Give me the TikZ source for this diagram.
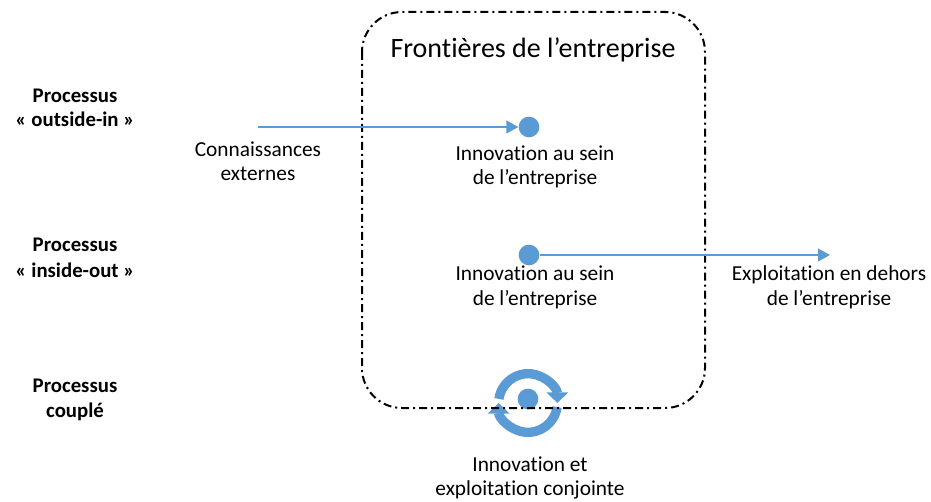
\documentclass[tikz,border=0pt]{standalone}
\usepackage{fontspec}
\setmainfont{Carlito}[Ligatures=CommonOff]
\usetikzlibrary{arrows.meta}
\definecolor{blu}{HTML}{5B9BD5}
\begin{document}
\begin{tikzpicture}[x=0.75pt,y=-0.75pt,
  lbl/.style={font=\fontsize{16}{18.75}\selectfont, anchor=base, inner sep=0pt},
  side/.style={font=\bfseries\fontsize{15.6}{18.75}\selectfont, anchor=base, inner sep=0pt},
  ttl/.style={font=\fontsize{21}{24}\selectfont, anchor=base, inner sep=0pt},
  dot/.style={circle, fill=blu, minimum size=15.5pt, inner sep=0pt},
  flow/.style={blu, line width=1.6pt, -{Triangle[length=9pt,width=9.5pt]}},
  cyc/.style={blu, line width=7pt, -{Triangle[length=8pt,width=16pt]}},
  border/.style={draw=black, line width=1.5pt, rounded corners=30pt, dash pattern=on 6pt off 3pt on 1.5pt off 3pt}
]
\useasboundingbox (0,0) rectangle (931,502);
\fill[white] (0,0) rectangle (931,502);

% cycle icon
\coordinate (cc) at (528,403);
\node[dot] (d3) at (528,399) {};
\draw[cyc] ([shift={(172:22pt)}]cc) arc[start angle=172, end angle=0, radius=22pt];
\draw[cyc] ([shift={(-8:22pt)}]cc) arc[start angle=-8, end angle=-180, radius=22pt];

% border
\draw[border] (362,12) rectangle (705,408);
\node[ttl] (title) at (533,58) {Frontières de l’entreprise};

% side labels
\node[side] (p1a) at (75,103) {Processus};
\node[side] (p1b) at (75,127) {« outside-in »};
\node[side] (p2a) at (75,252) {Processus};
\node[side] (p2b) at (75,277) {« inside-out »};
\node[side] (p3a) at (75,392) {Processus};
\node[side] (p3b) at (75,417) {couplé};

% row 1
\coordinate (s1) at (258,127);
\node[dot] (d1) at (529,127) {};
\draw[flow] (s1) -- (d1);
\node[lbl] (ck1) at (258,157) {Connaissances};
\node[lbl] (ck2) at (258,181) {externes};
\node[lbl] (i1a) at (535,161) {Innovation au sein};
\node[lbl] (i1b) at (535,185) {de l’entreprise};

% row 2
\node[dot] (d2) at (529,255) {};
\coordinate (e2) at (830,255);
\draw[flow] (d2) -- (e2);
\node[lbl] (i2a) at (535,281) {Innovation au sein};
\node[lbl] (i2b) at (535,305) {de l’entreprise};
\node[lbl] (ex1) at (829,281) {Exploitation en dehors};
\node[lbl] (ex2) at (829,305) {de l’entreprise};

% row 3
\node[lbl] (i3a) at (530,471) {Innovation et};
\node[lbl] (i3b) at (530,495) {exploitation conjointe};
\end{tikzpicture}
\end{document}
